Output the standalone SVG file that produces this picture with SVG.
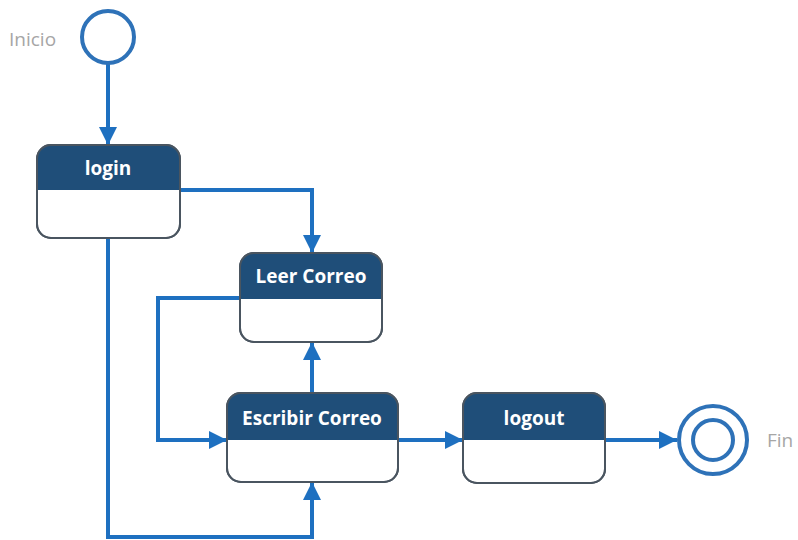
<svg xmlns="http://www.w3.org/2000/svg" width="798" height="540" viewBox="0 0 798 540">
  <style>
    .body { fill: #ffffff; stroke: #4a5560; stroke-width: 2; }
    .head { fill: #1f4e79; }
    .title { font-family: "Open Sans", "Noto Sans", sans-serif; font-weight: bold; font-size: 19px; fill: #ffffff; text-anchor: middle; }
    .lbl { font-family: "Open Sans", "Noto Sans", sans-serif; font-size: 19px; fill: #a6a6a6; }
    .edge { fill: none; stroke: #1e70c0; stroke-width: 4; }
    .ring { fill: #ffffff; stroke: #2e72b8; stroke-width: 4; }
  </style>
  <defs>
    <marker id="arrow" viewBox="0 0 10 10" refX="10" refY="5" markerWidth="4.5" markerHeight="4.5" orient="auto" markerUnits="strokeWidth">
      <path d="M0,0 L10,5 L0,10 Z" fill="#1e70c0"/>
    </marker>
    <clipPath id="cLogin"><rect x="37" y="145" width="143" height="93" rx="14"/></clipPath>
    <clipPath id="cLeer"><rect x="240" y="253" width="142" height="89" rx="14"/></clipPath>
    <clipPath id="cEsc"><rect x="227" y="393" width="171" height="89" rx="14"/></clipPath>
    <clipPath id="cOut"><rect x="463" y="393" width="142" height="90" rx="14"/></clipPath>
  </defs>

  <g id="connectors">
    <path class="edge" d="M108,64 V145" marker-end="url(#arrow)"/>
    <path class="edge" d="M180,190 H312 V253" marker-end="url(#arrow)"/>
    <path class="edge" d="M240,298 H158 V440 H227" marker-end="url(#arrow)"/>
    <path class="edge" d="M312,393 V342" marker-end="url(#arrow)"/>
    <path class="edge" d="M398,440 H463" marker-end="url(#arrow)"/>
    <path class="edge" d="M605,440 H677" marker-end="url(#arrow)"/>
    <path class="edge" d="M108,238 V537 H312 V482" marker-end="url(#arrow)"/>
  </g>

  <g id="inicio">
    <circle class="ring" cx="108" cy="37" r="26"/>
    <text class="lbl" x="9" y="46">Inicio</text>
  </g>

  <g id="login">
    <rect class="body" x="37" y="145" width="143" height="93" rx="14"/>
    <rect class="head" x="37" y="145" width="143" height="45" clip-path="url(#cLogin)"/>
    <rect x="37" y="145" width="143" height="93" rx="14" fill="none" stroke="#4a5560" stroke-width="2"/>
    <text class="title" x="108" y="175">login</text>
  </g>

  <g id="leer-correo">
    <rect class="body" x="240" y="253" width="142" height="89" rx="14"/>
    <rect class="head" x="240" y="253" width="142" height="46" clip-path="url(#cLeer)"/>
    <rect x="240" y="253" width="142" height="89" rx="14" fill="none" stroke="#4a5560" stroke-width="2"/>
    <text class="title" x="311" y="283">Leer Correo</text>
  </g>

  <g id="escribir-correo">
    <rect class="body" x="227" y="393" width="171" height="89" rx="14"/>
    <rect class="head" x="227" y="393" width="171" height="47" clip-path="url(#cEsc)"/>
    <rect x="227" y="393" width="171" height="89" rx="14" fill="none" stroke="#4a5560" stroke-width="2"/>
    <text class="title" x="312" y="425">Escribir Correo</text>
  </g>

  <g id="logout">
    <rect class="body" x="463" y="393" width="142" height="90" rx="14"/>
    <rect class="head" x="463" y="393" width="142" height="47" clip-path="url(#cOut)"/>
    <rect x="463" y="393" width="142" height="90" rx="14" fill="none" stroke="#4a5560" stroke-width="2"/>
    <text class="title" x="534" y="425">logout</text>
  </g>

  <g id="fin">
    <circle class="ring" cx="713" cy="440" r="34"/>
    <circle class="ring" cx="713" cy="440" r="20"/>
    <text class="lbl" x="767" y="447">Fin</text>
  </g>
</svg>
